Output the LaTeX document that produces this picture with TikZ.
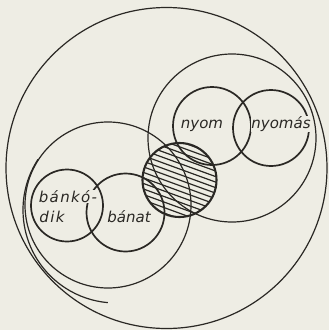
\documentclass[tikz,border=0pt]{standalone}
\usepackage{fontspec}
\setmainfont{DejaVu Sans}
\definecolor{bg}{HTML}{EEEDE4}
\definecolor{ink}{HTML}{2A2824}
\begin{document}
\begin{tikzpicture}[x=1pt,y=-1pt,
  bigring/.style={circle,draw=ink,line width=1.2pt,inner sep=0pt,outer sep=0pt},
  smallring/.style={circle,draw=ink,line width=1.7pt,inner sep=0pt,outer sep=0pt},
  hatchring/.style={circle,draw=ink,line width=2.1pt,inner sep=0pt,outer sep=0pt},
  hatchline/.style={draw=ink,line width=1.2pt},
  word/.style={font=\itshape\fontsize{15}{15}\selectfont,text=ink,fill=bg,inner sep=0.4pt,anchor=base},
  wideword/.style={word,font=\itshape\fontsize{15}{15}\selectfont\addfontfeature{LetterSpace=9}}]
\fill[bg] (0,0) rectangle (329,330);
\useasboundingbox (0,0) rectangle (329,330);
% large circles
\node[bigring,minimum size=321pt] (outer) at (166.5,168) {};
\node[bigring,minimum size=168pt] (upper) at (232,138) {};
\node[bigring,minimum size=166pt] (lower) at (108,205) {};
\coordinate (ec) at (116,210);
\draw[ink,line width=1.2pt] ([shift={(213:93)}]ec) arc[start angle=213,end angle=95,radius=93];
% small circles
\node[smallring,minimum size=72pt] (bankodik) at (67,205.5) {};
\node[smallring,minimum size=78pt] (banat) at (125.5,212.5) {};
\node[smallring,minimum size=78pt] (nyom) at (212,126) {};
\node[smallring,minimum size=76pt] (nyomas) at (271,128) {};
% hatched circle
\coordinate (hc) at (179.5,180);
\begin{scope}
  \clip (hc) circle[radius=37];
  \foreach \i in {-8,...,8}
    \draw[hatchline] ([shift={(110:{\i*5.2})}]hc) ++(20:-50) -- ++(20:100);
\end{scope}
\node[hatchring,minimum size=74pt] (hatched) at (hc) {};
% labels
\node[word] (tnyom) at (202,128) {nyom};
\node[word] (tnyomas) at (281,128) {nyomás};
\node[wideword] (tbanko) at (68,202) {bánkó-};
\node[wideword] (tdik) at (52,222) {dik};
\node[word] (tbanat) at (129,222) {bánat};
\end{tikzpicture}
\end{document}
